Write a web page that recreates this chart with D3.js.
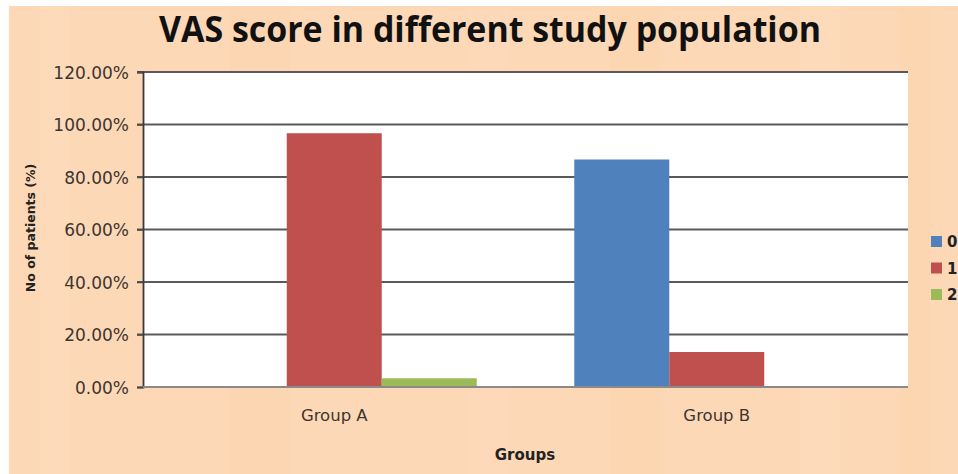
<!DOCTYPE html>
<html><head><meta charset="utf-8">
<script src="https://cdn.jsdelivr.net/npm/d3@7"></script>
<style>html,body{margin:0;padding:0;background:#fff;}svg{display:block;}</style>
</head><body>
<script>
const groups = ["Group A", "Group B"];
const seriesNames = ["0", "1", "2"];
const series0 = [0, 86.67];
const series1 = [96.67, 13.33];
const series2 = [3.33, 0];
const yTicks = [0, 20, 40, 60, 80, 100, 120];
const colors = ["#4f81bd", "#c0504d", "#9bbb59"];

const W = 958, H = 474;
const svg = d3.select("body").append("svg").attr("width", W).attr("height", H);

// background
svg.append("rect").attr("x", 9).attr("y", 6).attr("width", W - 9).attr("height", H - 6).attr("fill", "#fdd8b6");
const streaks = [[40,30,"#fddcbd"],[230,60,"#fcd5b0"],[470,40,"#fddbbb"],[610,50,"#fcd4ae"],[800,40,"#fddcbc"],[900,30,"#fcd3ad"]];
streaks.forEach(s => svg.append("rect").attr("x", s[0]).attr("y", 6).attr("width", s[1]).attr("height", H - 6).attr("fill", s[2]).attr("opacity", 0.6));

const m = {left: 143, right: 908, top: 72, bottom: 387};
const x0 = d3.scaleBand().domain(groups).range([m.left, m.right]).paddingInner(0.255).paddingOuter(0.1275);
const x1 = d3.scaleBand().domain(seriesNames).range([0, x0.bandwidth()]);
const y = d3.scaleLinear().domain([0, 120]).range([m.bottom, m.top]);

svg.append("rect").attr("x", m.left).attr("y", m.top).attr("width", m.right - m.left).attr("height", m.bottom - m.top).attr("fill", "#ffffff");

svg.append("g").selectAll("line").data(yTicks.filter(t => t > 0)).join("line")
  .attr("x1", m.left - 6).attr("x2", m.right).attr("y1", d => y(d)).attr("y2", d => y(d))
  .attr("stroke", "#5a5a5a").attr("stroke-width", 1.8);

const data = [series0, series1, series2];
groups.forEach((g, gi) => {
  data.forEach((s, si) => {
    const v = s[gi];
    if (v <= 0) return;
    svg.append("rect")
      .attr("x", x0(g) + x1(seriesNames[si]))
      .attr("y", y(v))
      .attr("width", x1.bandwidth())
      .attr("height", y(0) - y(v))
      .attr("fill", colors[si]);
  });
});

const yAxis = d3.axisLeft(y).tickValues(yTicks).tickSize(6).tickFormat(d => d.toFixed(2) + "%");
const ya = svg.append("g").attr("transform", `translate(${m.left},0)`).call(yAxis);
ya.select(".domain").attr("stroke", "#3a3a3a").attr("stroke-width", 1.8);
ya.selectAll(".tick line").attr("stroke", "#4a4a4a").attr("stroke-width", 1.5);
ya.selectAll("text").attr("font-family", "'DejaVu Sans', sans-serif").attr("font-size", 17).attr("fill", "#3d3530").attr("x", -14).attr("dy", "0.36em");

svg.append("line").attr("x1", m.left).attr("x2", m.right).attr("y1", m.bottom).attr("y2", m.bottom).attr("stroke", "#8a8a8a").attr("stroke-width", 2);
const xa = svg.append("g").attr("transform", `translate(0,${m.bottom})`).call(d3.axisBottom(x0).tickSize(0).tickPadding(22));
xa.select(".domain").remove();
xa.selectAll("text").attr("font-family", "'DejaVu Sans', sans-serif").attr("font-size", 16.5).attr("fill", "#3d3530");

svg.append("text").attr("x", 525).attr("y", 460).attr("text-anchor", "middle")
  .attr("font-family", "'DejaVu Sans', sans-serif").attr("font-weight", 700).attr("font-size", 15)
  .attr("fill", "#222").text("Groups");
svg.append("text").attr("transform", "translate(35,228) rotate(-90)").attr("text-anchor", "middle")
  .attr("font-family", "'DejaVu Sans', sans-serif").attr("font-weight", 700).attr("font-size", 12.5)
  .attr("fill", "#222").text("No of patients (%)");

svg.append("text").attr("x", 490).attr("y", 42).attr("text-anchor", "middle")
  .attr("font-family", "'Liberation Sans Narrow', 'Open Sans', sans-serif").attr("font-weight", 700).attr("font-size", 36)
  .attr("textLength", 662).attr("lengthAdjust", "spacingAndGlyphs")
  .attr("fill", "#111").text("VAS score in different study population");

const lg = svg.append("g");
seriesNames.forEach((n, i) => {
  const ly = 236 + i * 26.5;
  lg.append("rect").attr("x", 931).attr("y", ly).attr("width", 11).attr("height", 11).attr("fill", colors[i]);
  lg.append("text").attr("x", 947).attr("y", ly + 11).attr("font-family", "'DejaVu Sans', sans-serif")
    .attr("font-weight", 700).attr("font-size", 15).attr("fill", "#222").text(n);
});
</script>
</body></html>
